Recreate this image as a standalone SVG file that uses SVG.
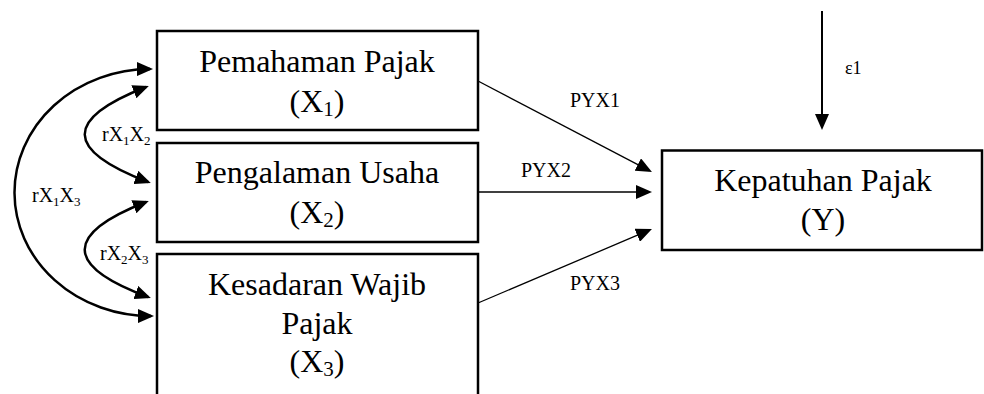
<svg xmlns="http://www.w3.org/2000/svg" width="984" height="394" viewBox="0 0 984 394">
<style>
.box{fill:#fff;stroke:#000;stroke-width:2.5}
.t{font-family:"Liberation Serif","Times New Roman",serif;font-size:32px;fill:#000;text-anchor:middle}
.lbl{font-family:"Liberation Serif","Times New Roman",serif;font-size:20px;fill:#000}
.sub{font-size:21px}
.sm{font-size:13px}
.thin{fill:none;stroke:#000;stroke-width:1.3}
.thick{fill:none;stroke:#000;stroke-width:2.5}
.mid{fill:none;stroke:#000;stroke-width:2}
</style>
<defs>
<marker id="ah" markerUnits="userSpaceOnUse" markerWidth="16" markerHeight="14" refX="13" refY="7" orient="auto-start-reverse" viewBox="0 0 16 14">
<path d="M0,0 L16,7 L0,14 z" fill="#000"/>
</marker>
</defs>
<rect width="984" height="394" fill="#fff"/>
<g id="connectors">
<path class="thin" d="M478,81 L649.3,170.6" marker-end="url(#ah)"/>
<path class="thin" d="M478,192 L649,192" marker-end="url(#ah)"/>
<path class="thin" d="M478,303 L649.2,230.2" marker-end="url(#ah)"/>
<path class="mid" d="M822,11 L822,127" marker-end="url(#ah)"/>
<path class="thick" d="M150,69 A136 123.5 0 0 0 151,316" marker-start="url(#ah)" marker-end="url(#ah)"/>
<path class="thick" d="M146,87 C64,119 64,150 148,182" marker-start="url(#ah)" marker-end="url(#ah)"/>
<path class="thick" d="M146,202 C64,234 64,266 148,297" marker-start="url(#ah)" marker-end="url(#ah)"/>
<text class="lbl" x="570" y="107">PYX1</text>
<text class="lbl" x="521" y="177">PYX2</text>
<text class="lbl" x="570" y="290">PYX3</text>
<text class="lbl" x="845" y="74" style="font-size:18px">ε1</text>
<text class="lbl" x="102" y="141">rX<tspan class="sm" dy="4">1</tspan><tspan dy="-4">X</tspan><tspan class="sm" dy="4">2</tspan></text>
<text class="lbl" x="32" y="202">rX<tspan class="sm" dy="4">1</tspan><tspan dy="-4">X</tspan><tspan class="sm" dy="4">3</tspan></text>
<text class="lbl" x="100" y="260">rX<tspan class="sm" dy="4">2</tspan><tspan dy="-4">X</tspan><tspan class="sm" dy="4">3</tspan></text>
</g>
<g id="node-x1">
<rect class="box" x="157" y="31" width="321" height="99"/>
<text class="t" x="317" y="71.5">Pemahaman Pajak</text>
<text class="t" x="317" y="112">(X<tspan class="sub" dy="4">1</tspan><tspan dy="-4">)</tspan></text>
</g>
<g id="node-x2">
<rect class="box" x="157" y="143" width="321" height="99"/>
<text class="t" x="317" y="182.5">Pengalaman Usaha</text>
<text class="t" x="317" y="223">(X<tspan class="sub" dy="4">2</tspan><tspan dy="-4">)</tspan></text>
</g>
<g id="node-x3">
<rect class="box" x="157" y="254" width="321" height="200"/>
<text class="t" x="317" y="295">Kesadaran Wajib</text>
<text class="t" x="317" y="334">Pajak</text>
<text class="t" x="317" y="372">(X<tspan class="sub" dy="4">3</tspan><tspan dy="-4">)</tspan></text>
</g>
<g id="node-y">
<rect class="box" x="662" y="150.5" width="320" height="99.5"/>
<text class="t" x="823" y="191">Kepatuhan Pajak</text>
<text class="t" x="823" y="230">(Y)</text>
</g>
</svg>
